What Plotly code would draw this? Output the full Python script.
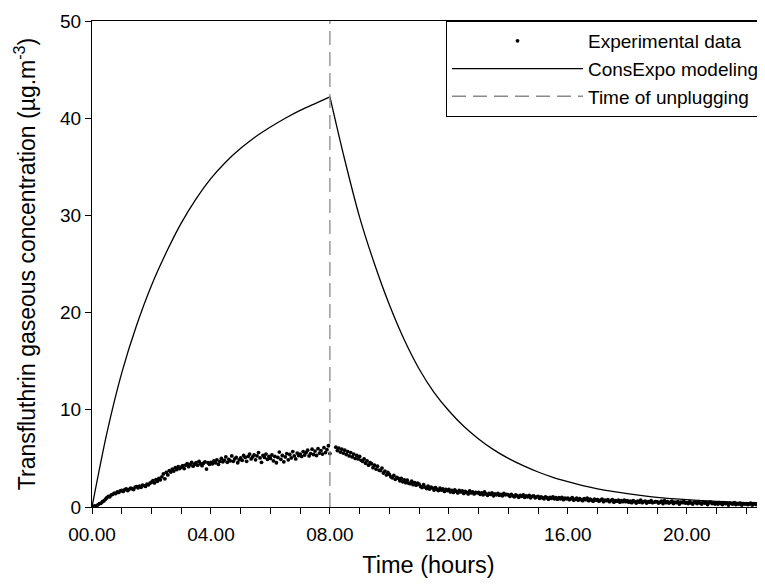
import numpy as np
import plotly.graph_objects as go

# ------------------------------------------------------------------
# data
# ------------------------------------------------------------------
# experimental measurements, one value every 0.05 h (3 min), one row per hour
# None = no measurement (instrument gap right after unplugging)
EXP_STEP = 0.05
exp_conc = [
    # 0 h
    0.00, 0.05, 0.12, 0.10, 0.22, 0.35, 0.38, 0.55, 0.62, 0.80, 0.95, 1.10, 1.05, 1.25, 1.30, 1.42, 1.38, 1.55, 1.50, 1.65,
    # 1 h
    1.72, 1.60, 1.78, 1.85, 1.70, 1.82, 1.95, 1.88, 1.80, 2.05, 2.10, 1.98, 2.15, 2.02, 2.25, 2.20, 2.12, 2.35, 2.28, 2.45,
    # 2 h
    2.55, 2.70, 2.48, 2.82, 2.65, 2.95, 2.80, 3.10, 3.40, 2.90, 3.55, 3.30, 3.75, 3.60, 3.90, 3.70, 4.05, 3.85, 4.15, 3.95,
    # 3 h
    4.10, 4.25, 3.95, 4.30, 4.45, 4.15, 4.35, 4.60, 4.20, 4.40, 4.55, 4.30, 4.70, 4.45, 4.25, 4.50, 4.65, 3.90, 4.55, 4.40,
    # 4 h
    4.60, 4.45, 4.75, 4.55, 4.85, 4.40, 4.70, 5.00, 4.65, 4.80, 5.15, 4.60, 4.90, 4.75, 5.25, 4.70, 4.95, 5.10, 4.55, 4.85,
    # 5 h
    5.05, 4.80, 5.30, 5.10, 4.70, 5.20, 5.45, 4.95, 5.15, 5.35, 4.85, 5.25, 5.60, 5.05, 4.60, 5.30, 5.10, 5.45, 4.90, 5.20,
    # 6 h
    5.00, 5.35, 4.75, 5.20, 4.55, 5.10, 5.65, 4.90, 5.30, 4.65, 5.15, 5.50, 4.85, 5.40, 5.05, 5.70, 5.25, 4.95, 5.55, 5.30,
    # 7 h
    5.45, 5.20, 5.70, 5.35, 5.60, 5.85, 5.25, 5.50, 5.95, 5.40, 5.75, 5.30, 6.00, 5.55, 5.80, 5.45, 6.10, 5.60, 5.90, 6.30,
    # 8 h
    5.50, None, None, None, 6.15, 5.80, 6.05, 5.65, 5.95, 5.55, 5.85, 5.40, 5.70, 5.25, 5.60, 5.15, 5.45, 5.00, 5.30, 4.95,
    # 9 h
    5.20, 4.80, 4.70, 4.95, 4.50, 4.75, 4.30, 4.55, 4.45, 4.05, 4.30, 3.90, 4.20, 3.80, 3.75, 4.00, 3.50, 3.70, 3.30, 3.55,
    # 10 h
    3.35, 3.10, 3.00, 3.25, 2.85, 3.05, 2.95, 2.70, 2.95, 2.60, 2.80, 2.50, 2.75, 2.45, 2.40, 2.65, 2.30, 2.50, 2.25, 2.45,
    # 11 h
    2.35, 2.10, 2.00, 2.30, 2.05, 1.90, 2.15, 1.85, 2.05, 1.95, 1.75, 2.00, 1.80, 1.70, 1.95, 1.75, 1.85, 1.60, 1.80, 1.70,
    # 12 h
    1.80, 1.55, 1.70, 1.50, 1.75, 1.60, 1.45, 1.70, 1.55, 1.65, 1.40, 1.60, 1.50, 1.35, 1.65, 1.45, 1.55, 1.35, 1.50, 1.45,
    # 13 h
    1.50, 1.30, 1.45, 1.25, 1.55, 1.35, 1.20, 1.40, 1.30, 1.45, 1.15, 1.35, 1.25, 1.40, 1.20, 1.30, 1.15, 1.40, 1.25, 1.30,
    # 14 h
    1.25, 1.10, 1.30, 1.15, 1.05, 1.25, 1.15, 1.00, 1.20, 1.10, 1.25, 1.00, 1.15, 1.05, 1.20, 0.95, 1.10, 1.15, 0.95, 1.05,
    # 15 h
    1.10, 0.90, 1.05, 0.95, 0.85, 1.05, 0.95, 0.80, 1.00, 0.90, 1.05, 0.85, 0.95, 0.80, 0.95, 0.85, 1.00, 0.75, 0.90, 0.85,
    # 16 h
    0.90, 0.75, 0.85, 0.95, 0.70, 0.80, 0.90, 0.70, 0.85, 0.75, 0.65, 0.85, 0.75, 0.90, 0.65, 0.80, 0.70, 0.60, 0.80, 0.70,
    # 17 h
    0.75, 0.60, 0.70, 0.80, 0.55, 0.70, 0.65, 0.75, 0.55, 0.65, 0.75, 0.50, 0.65, 0.60, 0.70, 0.50, 0.65, 0.55, 0.70, 0.55,
    # 18 h
    0.65, 0.50, 0.60, 0.45, 0.65, 0.55, 0.40, 0.60, 0.50, 0.70, 0.45, 0.55, 0.60, 0.40, 0.55, 0.50, 0.65, 0.45, 0.50, 0.55,
    # 19 h
    0.55, 0.40, 0.50, 0.60, 0.35, 0.65, 0.45, 0.55, 0.40, 0.50, 0.60, 0.35, 0.50, 0.45, 0.55, 0.30, 0.50, 0.45, 0.60, 0.40,
    # 20 h
    0.45, 0.35, 0.55, 0.40, 0.30, 0.50, 0.45, 0.35, 0.55, 0.40, 0.30, 0.50, 0.40, 0.45, 0.25, 0.45, 0.50, 0.35, 0.40, 0.30,
    # 21 h
    0.40, 0.30, 0.45, 0.35, 0.25, 0.45, 0.35, 0.40, 0.20, 0.40, 0.35, 0.30, 0.45, 0.25, 0.35, 0.30, 0.40, 0.20, 0.35, 0.30,
    # 22 h
    0.35, 0.25, 0.30, 0.40, 0.20, 0.35, 0.30, 0.25, 0.40, 0.25, 0.30, 0.20, 0.30,
]
exp_time = np.arange(len(exp_conc)) * EXP_STEP

# ConsExpo model: emission phase (plugged in) and decay phase (unplugged), every 0.5 h
model_time_on = [0, 0.5, 1, 1.5, 2, 2.5, 3, 3.5, 4, 4.5, 5, 5.5, 6, 6.5, 7, 7.5, 8]
model_conc_on = [0, 7.6, 13.8, 18.7, 22.8, 26.2, 29.2, 31.7, 33.8, 35.5, 36.9, 38.1,
                 39.1, 40.0, 40.8, 41.5, 42.2]
model_time_off = [8, 8.5, 9, 9.5, 10, 10.5, 11, 11.5, 12, 12.5, 13, 13.5, 14, 14.5, 15, 15.5,
                  16, 16.5, 17, 17.5, 18, 18.5, 19, 19.5, 20, 20.5, 21, 21.5, 22, 22.5, 23]
model_conc_off = [42.2, 35.7, 29.8, 25.0, 20.8, 17.2, 14.2, 11.8, 9.9, 8.3, 7.0, 5.9, 5.0,
                  4.25, 3.6, 3.05, 2.6, 2.2, 1.87, 1.6, 1.37, 1.17, 1.0, 0.87, 0.76, 0.66,
                  0.58, 0.51, 0.45, 0.4, 0.37]

unplug_time = 8
y_max = 50
x_max = 22.63

tick_hours = [0, 4, 8, 12, 16, 20]
tick_labels = ["00.00", "04.00", "08.00", "12.00", "16.00", "20.00"]

# ------------------------------------------------------------------
# figure
# ------------------------------------------------------------------
FONT = "Liberation Sans, Arial, sans-serif"
model_line = dict(color="black", width=1.3, shape="spline", smoothing=0.8)

fig = go.Figure()

fig.add_trace(go.Scatter(
    x=exp_time, y=exp_conc, mode="markers", name="Experimental data",
    marker=dict(color="black", size=3.8, line=dict(width=0)),
))
fig.add_trace(go.Scatter(
    x=model_time_on, y=model_conc_on, mode="lines", name="ConsExpo modeling",
    legendgroup="model", line=model_line,
))
fig.add_trace(go.Scatter(
    x=model_time_off, y=model_conc_off, mode="lines", name="ConsExpo modeling",
    legendgroup="model", showlegend=False, line=model_line,
))
fig.add_trace(go.Scatter(
    x=[unplug_time, unplug_time], y=[0, y_max], mode="lines", name="Time of unplugging",
    line=dict(color="#8a8a8a", width=1.3, dash="14px,7px"),
))

# page body adds 8px around the plot -> figure a bit smaller than the window
fig.update_layout(
    width=757, height=577,
    margin=dict(l=84, r=0, t=13, b=78),
    paper_bgcolor="white", plot_bgcolor="white",
    font=dict(family=FONT, size=19, color="black"),
    showlegend=True,
    legend=dict(
        x=0.526, y=1, xanchor="left", yanchor="top",
        bgcolor="white", bordercolor="black", borderwidth=1,
        font=dict(size=19), itemwidth=131, tracegroupgap=0,
    ),
)

fig.update_xaxes(
    range=[0, x_max],
    tickvals=tick_hours, ticktext=tick_labels,
    ticks="outside", ticklen=6, tickwidth=1, tickcolor="black",
    minor=dict(dtick=1, ticks="outside", ticklen=6, tickwidth=1, tickcolor="black", showgrid=False),
    showline=True, linecolor="black", linewidth=1, mirror=True,
    showgrid=False, zeroline=False,
    tickfont=dict(size=19), ticklabelstandoff=4,
    title=dict(text="Time (hours)", font=dict(size=23.5), standoff=12),
)
fig.update_yaxes(
    range=[0, y_max], dtick=10,
    ticks="outside", ticklen=6, tickwidth=1, tickcolor="black",
    showline=True, linecolor="black", linewidth=1,
    showgrid=False, zeroline=False,
    tickfont=dict(size=19),
    title=dict(text="Transfluthrin gaseous concentration (µg.m<sup>-3</sup>)",
               font=dict(size=23), standoff=18),
)

fig.write_html("out.html")
